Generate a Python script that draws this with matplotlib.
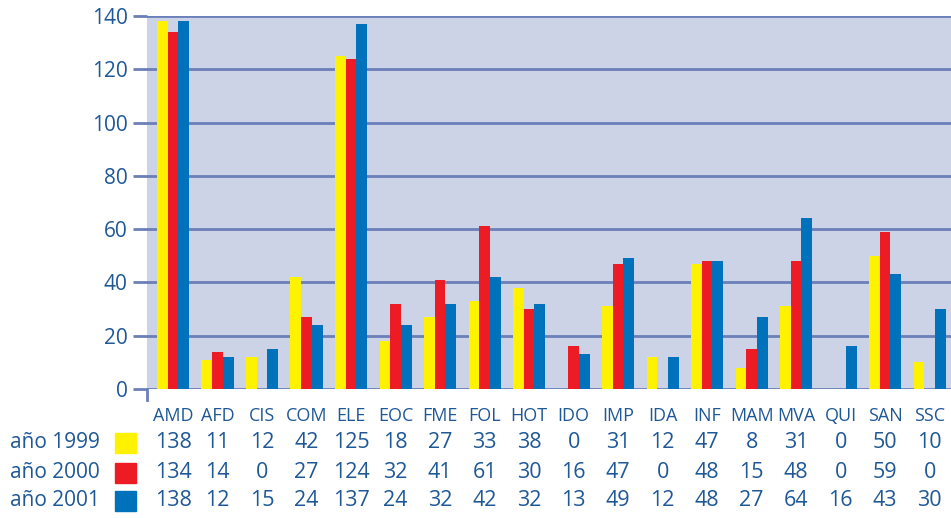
import matplotlib
matplotlib.use("Agg")
import matplotlib.pyplot as plt
import matplotlib.transforms as mtransforms
import numpy as np

plt.rcParams['font.family'] = ['Open Sans', 'DejaVu Sans']

categories = ["AMD", "AFD", "CIS", "COM", "ELE", "EOC", "FME", "FOL", "HOT", "IDO",
              "IMP", "IDA", "INF", "MAM", "MVA", "QUI", "SAN", "SSC"]
series_names = ["año 1999", "año 2000", "año 2001"]
v1999 = [138, 11, 12, 42, 125, 18, 27, 33, 38, 0, 31, 12, 47, 8, 31, 0, 50, 10]
v2000 = [134, 14, 0, 27, 124, 32, 41, 61, 30, 16, 47, 0, 48, 15, 48, 0, 59, 0]
v2001 = [138, 12, 15, 24, 137, 24, 32, 42, 32, 13, 49, 12, 48, 27, 64, 16, 43, 30]
yticks = [0, 20, 40, 60, 80, 100, 120, 140]

colors = ["#fff200", "#ed1c24", "#0072bc"]
text_color = "#1f5896"
grid_color = "#6b7fb8"
bg_color = "#cdd3e7"

W, H = 951, 518
fig = plt.figure(figsize=(W / 100, H / 100), dpi=100)
ax = fig.add_axes([147 / W, 1 - 389 / H, (W - 147) / W, (389 - 16) / H])
ax.set_facecolor(bg_color)

x = np.arange(len(categories))
bw = 0.24
for k, vals in enumerate([v1999, v2000, v2001]):
    ax.bar(x + (k - 1) * bw, vals, width=bw, color=colors[k], zorder=3, linewidth=0)

ax.set_xlim(-0.584, len(categories) - 1 + 0.48)
ax.set_ylim(0, 140)
ax.set_yticks(yticks)
ax.set_yticklabels([str(t) for t in yticks], fontsize=15, color=text_color)
ax.tick_params(axis='y', length=10, width=2, color=grid_color, pad=4)
ax.set_xticks([])
ax.yaxis.grid(True, color=grid_color, linewidth=2, zorder=1)
ax.set_axisbelow(True)
for s in ax.spines.values():
    s.set_visible(False)

# small downward tick at the origin
trans_tick = mtransforms.blended_transform_factory(ax.transAxes, ax.transAxes)
ax.plot([0, 0], [0, -11 / 373], color=grid_color, linewidth=2, transform=trans_tick,
        clip_on=False, zorder=4)

# data table below
tr = mtransforms.blended_transform_factory(ax.transData, fig.transFigure)
def fy(py):
    return 1 - py / H

for i, c in enumerate(categories):
    ax.text(i, fy(416), c, transform=tr, ha='center', va='center', fontsize=13,
            color=text_color, clip_on=False)

row_y = [443, 473, 501]
for k, (name, vals) in enumerate(zip(series_names, [v1999, v2000, v2001])):
    fig.text(10 / W, fy(row_y[k]), name, ha='left', va='center', fontsize=15,
             color=text_color)
    fig.patches.append(plt.Rectangle((115 / W, fy(row_y[k] + 10)), 21 / W, 20 / H,
                                     transform=fig.transFigure, color=colors[k],
                                     figure=fig))
    for i, v in enumerate(vals):
        ax.text(i, fy(row_y[k]), str(v), transform=tr, ha='center', va='center',
                fontsize=15.5, color=text_color, clip_on=False)

fig.savefig("out.png", dpi=100)
